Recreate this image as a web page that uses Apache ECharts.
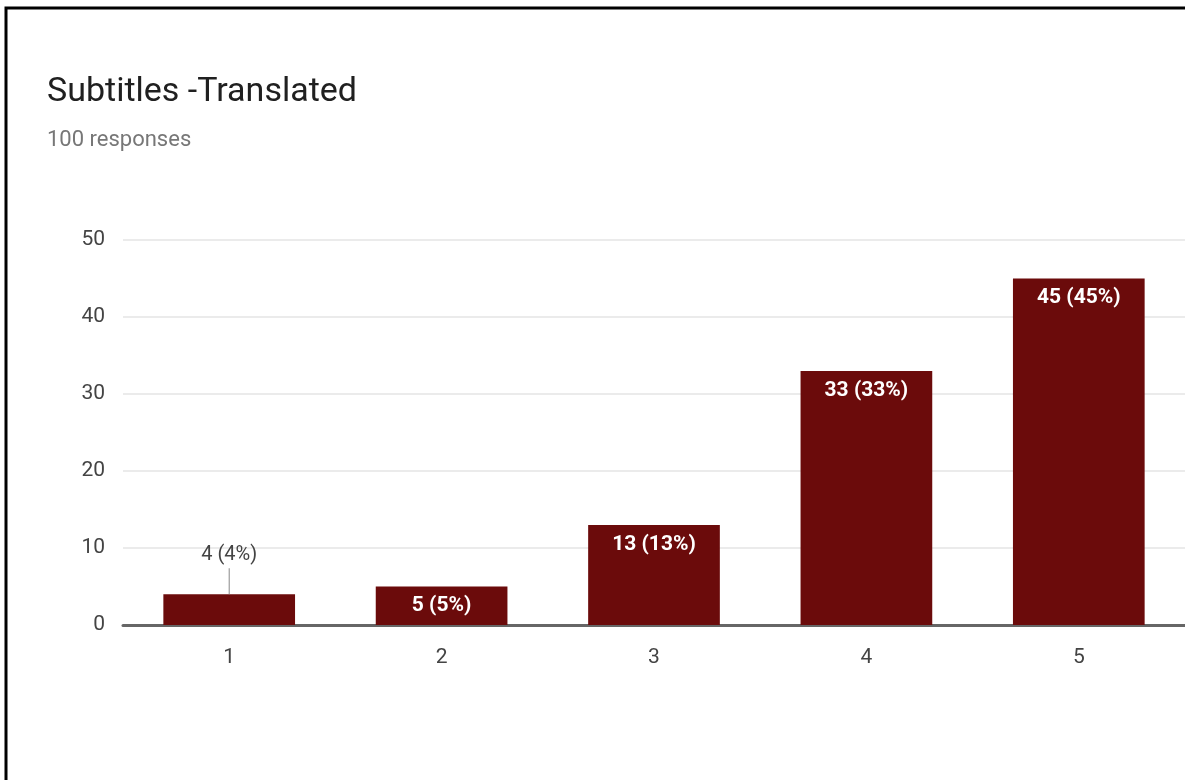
<!DOCTYPE html>
<html>
<head>
<meta charset="utf-8">
<script src="https://cdn.jsdelivr.net/npm/echarts@6/dist/echarts.min.js"></script>
<style>
  html, body { margin: 0; padding: 0; background: #fff; }
  #main { width: 1185px; height: 780px; }
</style>
</head>
<body>
<div id="main"></div>
<script>
var categories = ['1', '2', '3', '4', '5'];
var counts = [4, 5, 13, 33, 45];
var percents = [4, 5, 13, 33, 45];
var yTicks = [0, 10, 20, 30, 40, 50];

var chart = echarts.init(document.getElementById('main'));

var barData = counts.map(function (v, i) {
    var item = { value: v };
    if (i === 0) {
        // small bar: label sits above with a short leader line
        item.label = {
            position: 'top',
            distance: 0,
            formatter: '{t|' + v + ' (' + percents[i] + '%)}\n{l|}',
            rich: {
                t: { color: '#444', fontSize: 20, fontFamily: 'Roboto', fontWeight: 'normal', lineHeight: 26, align: 'center' },
                l: { width: 1, height: 26, backgroundColor: '#888', align: 'center' }
            }
        };
    }
    return item;
});

var option = {
    animation: false,
    backgroundColor: '#fff',
    title: {
        text: 'Subtitles -Translated',
        subtext: '100 responses',
        left: 42,
        top: 70,
        itemGap: 20,
        textStyle: { fontFamily: 'Roboto', fontSize: 34, fontWeight: 'normal', color: '#202020' },
        subtextStyle: { fontFamily: 'Roboto', fontSize: 22, color: '#777' }
    },
    graphic: [{
        type: 'polyline',
        shape: { points: [[6, 780], [6, 8], [1185, 8]] },
        style: { stroke: '#000', lineWidth: 3, fill: null }
    }],
    grid: { left: 123, right: 0, top: 240, bottom: 155 },
    xAxis: {
        type: 'category',
        data: categories,
        axisTick: { show: false },
        axisLine: { lineStyle: { color: '#666', width: 3 } },
        axisLabel: { color: '#444', fontSize: 21, fontFamily: 'Roboto', margin: 22 }
    },
    yAxis: {
        type: 'value',
        min: yTicks[0],
        max: yTicks[yTicks.length - 1],
        interval: 10,
        axisLine: { show: false },
        axisTick: { show: false },
        axisLabel: { color: '#444', fontSize: 21, fontFamily: 'Roboto', margin: 18 },
        splitLine: { lineStyle: { color: '#ebebeb', width: 2 } }
    },
    series: [{
        type: 'bar',
        data: barData,
        barWidth: '62%',
        itemStyle: { color: '#6b0b0b' },
        label: {
            show: true,
            position: 'insideTop',
            distance: 9,
            color: '#fff',
            fontSize: 21,
            fontWeight: 'bold',
            fontFamily: 'Roboto',
            formatter: function (p) { return p.value + ' (' + percents[p.dataIndex] + '%)'; }
        }
    }]
};

chart.setOption(option);
</script>
</body>
</html>
